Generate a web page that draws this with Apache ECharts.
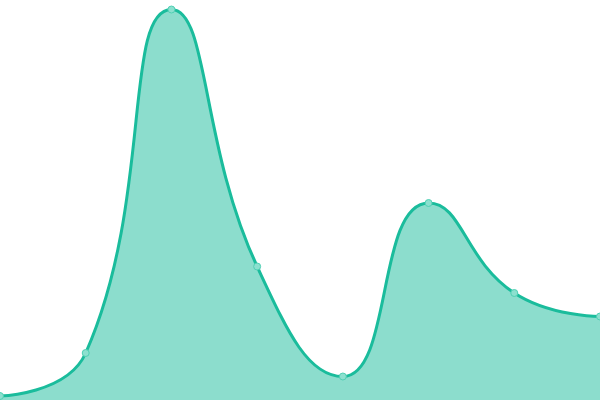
<!DOCTYPE html>
<html><head><meta charset="utf-8">
<script src="https://cdn.jsdelivr.net/npm/echarts@6/dist/echarts.min.js"></script>
<style>html,body{margin:0;padding:0;background:#fff}#c{width:600px;height:400px}</style>
</head><body><div id="c"></div>
<script>
const categories = ['A','B','C','D','E','F','G','H'];
const values = [4, 47, 390.5, 133.5, 23.5, 197, 107, 83.5];
const chart = echarts.init(document.getElementById('c'));
chart.setOption({
  animation: false,
  grid: {left: 0, right: 0, top: 0, bottom: 0},
  xAxis: {type: 'category', data: categories, boundaryGap: false, show: false},
  yAxis: {type: 'value', min: 0, max: 400, show: false},
  series: [{
    type: 'line',
    data: values,
    smooth: true,
    symbol: 'circle',
    symbolSize: 7,
    lineStyle: {color: '#1abc9c', width: 3},
    itemStyle: {color: '#8ce0cf', borderColor: '#4fcfb3', borderWidth: 1},
    areaStyle: {color: '#1abc9c', opacity: 0.5}
  }]
});
</script></body></html>
